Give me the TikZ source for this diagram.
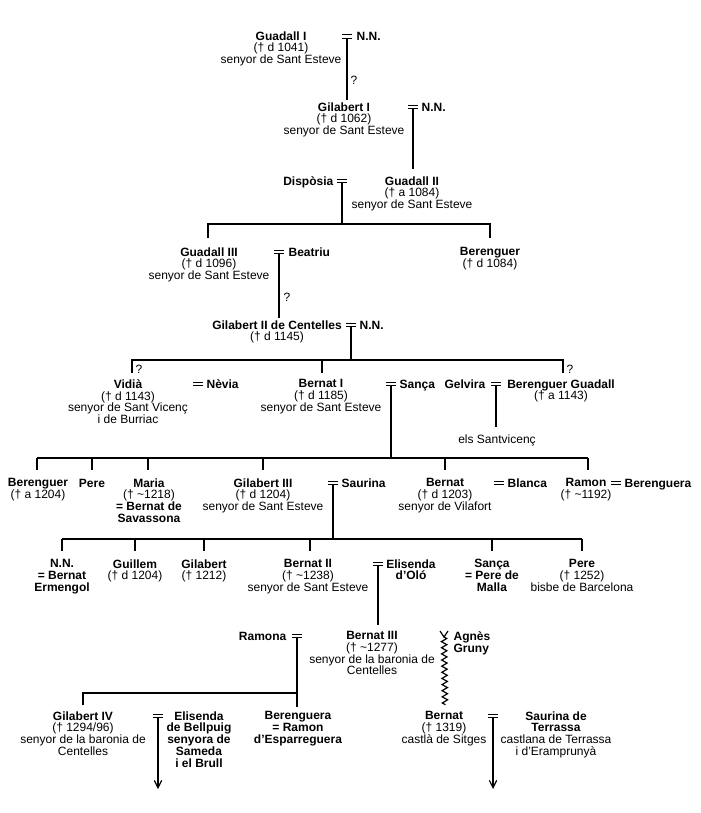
\documentclass[tikz,border=0pt]{standalone}
\usepackage{fontspec}
\setmainfont{Liberation Sans}
\usetikzlibrary{arrows.meta,decorations.pathmorphing}
\newcommand\fs{\fontsize{9pt}{8.8pt}\selectfont}
\newcommand\B[1]{\textbf{#1}}
\newcommand\til{\textasciitilde}
\tikzset{
  pbase/.style={inner sep=0pt, font=\fs, execute at begin node={\rule{0pt}{7pt}}, yshift=3.8pt},
  pc/.style={pbase, anchor=north, align=center},
  pl/.style={pbase, anchor=north west, align=left},
  pr/.style={pbase, anchor=north east, align=right},
  qm/.style={inner sep=0pt, font=\fs, anchor=west},
  marr/.pic={\draw (-5,-1.8) -- (5,-1.8) (-5,1.8) -- (5,1.8); \coordinate (-b) at (0,1.8);},
  arr/.style={-{Straight Barb[length=5.5pt,width=5.5pt]}},
  wavy/.style={decorate, decoration={zigzag, amplitude=2pt, segment length=4.6pt}}
}
\begin{document}
\begin{tikzpicture}[x=0.75pt,y=-0.75pt,line width=0.9pt]
\fill[white] (0,0) rectangle (700,813);
\useasboundingbox (0,0) rectangle (700,813);

% Row 1
\node[pc] (g1) at (281,36) {\B{Guadall I}\\(† d 1041)\\senyor de Sant Esteve};
\pic (m1) at (347,36.5) {marr};
\node[pl] (nn1) at (356,36) {\B{N.N.}};
\coordinate (e1) at (347,100);
\draw (m1-b) -- (e1);
\node[qm] (q1) at (350,80) {?};

% Row 2
\node[pc] (g2) at (344,107) {\B{Gilabert I}\\(† d 1062)\\senyor de Sant Esteve};
\pic (m2) at (413,107) {marr};
\node[pl] (nn2) at (421,107) {\B{N.N.}};
\coordinate (e2) at (413,169);
\draw (m2-b) -- (e2);

% Row 3
\node[pr] (disp) at (334,181) {\B{Dispòsia}};
\pic (m3) at (342,181) {marr};
\node[pc] (g3) at (412,181) {\B{Guadall II}\\(† a 1084)\\senyor de Sant Esteve};
\coordinate (b3) at (342,224);
\coordinate (b3l) at (208,224);
\coordinate (b3r) at (490,224);
\coordinate (d3l) at (208,238);
\coordinate (d3r) at (490,238);
\draw (m3-b) -- (b3);
\draw (d3l) -- (b3l) -- (b3r) -- (d3r);

% Row 4
\node[pc] (g4) at (209,252) {\B{Guadall III}\\(† d 1096)\\senyor de Sant Esteve};
\pic (m4) at (279,252) {marr};
\node[pl] (beat) at (288,252) {\B{Beatriu}};
\node[pc] (bg4) at (490,252) {\B{Berenguer}\\(† d 1084)};
\coordinate (e4) at (279,318);
\draw (m4-b) -- (e4);
\node[qm] (q4) at (283,297) {?};

% Row 5
\node[pc] (g5) at (277,325) {\B{Gilabert II de Centelles}\\(† d 1145)};
\pic (m5) at (351,325) {marr};
\node[pl] (nn5) at (359,325) {\B{N.N.}};
\coordinate (b5) at (351,360);
\coordinate (b5l) at (132,360);
\coordinate (b5m) at (322,360);
\coordinate (b5r) at (563,360);
\coordinate (d5l) at (132,373);
\coordinate (d5m) at (322,373);
\coordinate (d5r) at (563,373);
\draw (m5-b) -- (b5);
\draw (d5l) -- (b5l) -- (b5r) -- (d5r);
\draw (b5m) -- (d5m);
\node[qm] (q5l) at (135,369) {?};
\node[qm] (q5r) at (566,369) {?};

% Row 6
\node[pc] (vid) at (128,384) {\B{Vidià}\\(† d 1143)\\senyor de Sant Vicenç\\i de Burriac};
\pic (m6a) at (198,384) {marr};
\node[pl] (nev) at (206,384) {\B{Nèvia}};
\node[pc] (bern1) at (321,384) {\B{Bernat I}\\(† d 1185)\\senyor de Sant Esteve};
\pic (m6b) at (391,384) {marr};
\node[pl] (sanca) at (399,384) {\B{Sança}};
\node[pr] (gelv) at (486,384) {\B{Gelvira}};
\pic (m6c) at (496,384) {marr};
\node[pc] (bgu) at (561,384) {\B{Berenguer Guadall}\\(† a 1143)};
\coordinate (e6c) at (496,427);
\draw (m6c-b) -- (e6c);
\node[pc] (sv) at (497,439) {els Santvicenç};

% bar row 7
\coordinate (b6) at (391,458);
\draw (m6b-b) -- (b6);
\coordinate (b7l) at (37,458);
\coordinate (b7r) at (588,458);
\foreach \n/\x in {a/37,b/92,c/148,d/263,e/445,f/588}{
  \coordinate (t7\n) at (\x,458);
  \coordinate (u7\n) at (\x,470);
  \draw (t7\n) -- (u7\n);
}
\draw (b7l) -- (b7r);

% Row 7
\node[pc] (r7a) at (38,483) {\B{Berenguer}\\(† a 1204)};
\node[pc] (r7b) at (92,483) {\B{Pere}};
\node[pc] (r7c) at (149,483) {\B{Maria}\\(† \til1218)\\\B{= Bernat de}\\\B{Savassona}};
\node[pc] (r7d) at (263,483) {\B{Gilabert III}\\(† d 1204)\\senyor de Sant Esteve};
\pic (m7a) at (333,483) {marr};
\node[pl] (saur) at (341,483) {\B{Saurina}};
\node[pc] (r7e) at (445,483) {\B{Bernat}\\(† d 1203)\\senyor de Vilafort};
\pic (m7b) at (499,483) {marr};
\node[pl] (blanca) at (507,483) {\B{Blanca}};
\node[pc] (r7f) at (586,483) {\B{Ramon}\\(† \til1192)};
\pic (m7c) at (616,483) {marr};
\node[pl] (berg) at (624,483) {\B{Berenguera}};

% bar row 8
\coordinate (b7) at (333,539);
\draw (m7a-b) -- (b7);
\coordinate (b8l) at (62,539);
\coordinate (b8r) at (582,539);
\foreach \n/\x in {a/62,b/135,c/204,d/310,f/492,g/582}{
  \coordinate (t8\n) at (\x,539);
  \coordinate (u8\n) at (\x,551);
  \draw (t8\n) -- (u8\n);
}
\draw (b8l) -- (b8r);

% Row 8
\node[pc] (r8a) at (62,564) {\B{N.N.}\\\B{= Bernat}\\\B{Ermengol}};
\node[pc] (r8b) at (135,564) {\B{Guillem}\\(† d 1204)};
\node[pc] (r8c) at (204,564) {\B{Gilabert}\\(† 1212)};
\node[pc] (r8d) at (308,564) {\B{Bernat II}\\(† \til1238)\\senyor de Sant Esteve};
\pic (m8) at (378,564) {marr};
\node[pc] (elis) at (411,564) {\B{Elisenda}\\\B{d'Oló}};
\node[pc] (r8f) at (492,564) {\B{Sança}\\\B{= Pere de}\\\B{Malla}};
\node[pc] (r8g) at (582,564) {\B{Pere}\\(† 1252)\\bisbe de Barcelona};
\coordinate (e8) at (378,625);
\draw (m8-b) -- (e8);

% Row 9
\node[pr] (ramona) at (287,636) {\B{Ramona}};
\pic (m9) at (297,636) {marr};
\node[pc] (r9b) at (372,636) {\B{Bernat III}\\(† \til1277)\\senyor de la baronia de\\Centelles};
\node[pl] (agnes) at (453,636) {\B{Agnès}\\\B{Gruny}};
\coordinate (wv0l) at (440,631);
\coordinate (wv0r) at (448,631);
\coordinate (wv1) at (444,637);
\coordinate (wv2) at (445,705);
\draw (wv0l) -- (wv1) -- (wv0r);
\draw[wavy] (wv1) -- (wv2);
\coordinate (e9) at (297,707);
\coordinate (b9) at (297,693);
\coordinate (b9l) at (83,693);
\coordinate (d9l) at (83,705);
\draw (m9-b) -- (e9);
\draw (d9l) -- (b9l) -- (b9);

% Row 10
\node[pc] (r10a) at (83,716) {\B{Gilabert IV}\\(† 1294/96)\\senyor de la baronia de\\Centelles};
\pic (m10a) at (158,716) {marr};
\node[pc] (r10b) at (199,716) {\B{Elisenda}\\\B{de Bellpuig}\\\B{senyora de}\\\B{Sameda}\\\B{i el Brull}};
\node[pc] (r10c) at (298,716) {\B{Berenguera}\\\B{= Ramon}\\\B{d'Esparreguera}};
\node[pc] (r10d) at (444,716) {\B{Bernat}\\(† 1319)\\castlà de Sitges};
\pic (m10b) at (493,716) {marr};
\node[pc] (r10e) at (556,716) {\B{Saurina de}\\\B{Terrassa}\\castlana de Terrassa\\i d'Eramprunyà};
\coordinate (e10a) at (158,789);
\coordinate (e10b) at (493,789);
\draw[arr] (m10a-b) -- (e10a);
\draw[arr] (m10b-b) -- (e10b);
\end{tikzpicture}
\end{document}
